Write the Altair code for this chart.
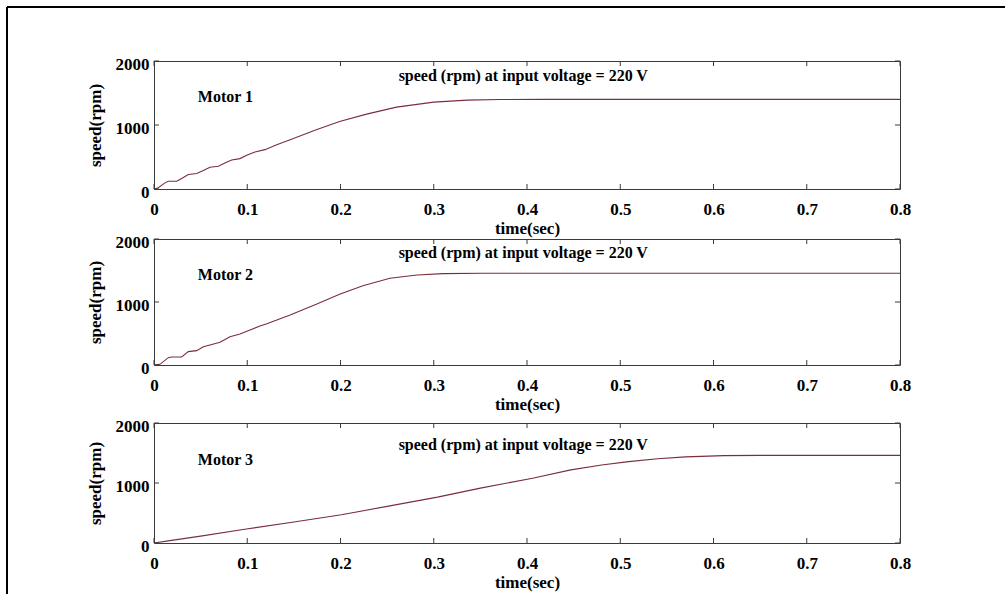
import altair as alt
import pandas as pd

# ---------------- data ----------------
t1 = [0, 0.0046, 0.0118, 0.0153, 0.0243, 0.0297, 0.0368, 0.0458, 0.0529, 0.060, 0.069,
      0.076, 0.0833, 0.0922, 0.0994, 0.1083, 0.119, 0.1316, 0.146, 0.174, 0.199, 0.228,
      0.260, 0.300, 0.336, 0.371, 0.42, 0.8]
v1 = [0, 19, 96, 122, 122, 163, 226, 241, 288, 340, 355,
      408, 454, 475, 526, 579, 615, 693, 770, 926, 1055, 1170,
      1279, 1357, 1388, 1398, 1400, 1400]

t2 = [0, 0.0064, 0.0153, 0.019, 0.0297, 0.0368, 0.0458, 0.0529, 0.060, 0.0708, 0.0815,
      0.0922, 0.103, 0.1137, 0.121, 0.146, 0.174, 0.199, 0.224, 0.253, 0.282, 0.310,
      0.353, 0.8]
v2 = [0, 11, 116, 127, 127, 212, 228, 291, 317, 360, 450,
      492, 556, 619, 656, 794, 963, 1122, 1259, 1376, 1429, 1450,
      1456, 1456]

t3 = [0, 0.017, 0.05, 0.099, 0.15, 0.201, 0.25, 0.304, 0.35, 0.406, 0.447, 0.48,
      0.509, 0.54, 0.57, 0.611, 0.65, 0.8]
v3 = [0, 39, 115, 233, 350, 471, 610, 765, 915, 1080, 1219, 1300,
      1357, 1405, 1435, 1457, 1460, 1460]

x_ticks = [0, 0.1, 0.2, 0.3, 0.4, 0.5, 0.6, 0.7, 0.8]
y_ticks = [0, 1000, 2000]

motor_names = ["Motor 1", "Motor 2", "Motor 3"]
motor_t = [0.047, 0.047, 0.047]
motor_v = [1440, 1430, 1390]
caption = "speed (rpm) at input voltage = 220 V"
caption_t = [0.396, 0.396, 0.396]
caption_v = [1767, 1770, 1633]

# ---------------- styling ----------------
W = 746
heights = [128, 126, 120]
gaps = [50, 58]
FONT = "Liberation Serif"
LINE = "#7a2e3c"
FRAME = "#3a3a3a"


def axes():
    xa = alt.Axis(
        values=x_ticks, format=".1~f", title="time(sec)", grid=False,
        domain=False, ticks=False, labelFlush=False, labelOverlap=False,
        labelFont=FONT, labelFontWeight="bold", labelFontSize=17, labelColor="black",
        labelPadding=12, titleFont=FONT, titleFontWeight="bold", titleFontSize=17,
        titleColor="black", titlePadding=3)
    ya = alt.Axis(
        values=y_ticks, format="d", title="speed(rpm)", grid=False,
        domain=False, ticks=False, labelFlush=False, labelOverlap=False,
        labelFont=FONT, labelFontWeight="bold", labelFontSize=17, labelColor="black",
        labelPadding=5, labelOffset=3, titleFont=FONT, titleFontWeight="bold",
        titleFontSize=17, titleColor="black", titlePadding=11)
    return xa, ya


def panel(t, v, h, name, nt, nv, ct, cv, border=False):
    xs = alt.Scale(domain=[0, 0.8], nice=False, zero=False)
    ys = alt.Scale(domain=[0, 2000], nice=False)
    xa, ya = axes()
    X = lambda: alt.X("t:Q", scale=xs, axis=xa)
    Y = lambda: alt.Y("v:Q", scale=ys, axis=ya)

    df = pd.DataFrame({"t": t, "v": v})
    line = alt.Chart(df).mark_line(color=LINE, strokeWidth=1.1, clip=True).encode(x=X(), y=Y())

    xt = pd.DataFrame({"t": x_ticks})
    yt = pd.DataFrame({"v": y_ticks})
    top_t = alt.Chart(xt).mark_rule(color=FRAME, strokeWidth=1).encode(
        x=X(), y=alt.value(0), y2=alt.value(5))
    bot_t = alt.Chart(xt).mark_rule(color=FRAME, strokeWidth=1).encode(
        x=X(), y=alt.value(h), y2=alt.value(h - 5))
    left_t = alt.Chart(yt).mark_rule(color=FRAME, strokeWidth=1).encode(
        y=Y(), x=alt.value(0), x2=alt.value(5))
    right_t = alt.Chart(yt).mark_rule(color=FRAME, strokeWidth=1).encode(
        y=Y(), x=alt.value(W), x2=alt.value(W - 5))

    name_df = pd.DataFrame({"t": [nt], "v": [nv], "label": [name]})
    cap_df = pd.DataFrame({"t": [ct], "v": [cv], "label": [caption]})
    name_txt = alt.Chart(name_df).mark_text(
        font=FONT, fontWeight="bold", fontSize=16, color="black", align="left",
        baseline="middle").encode(x=X(), y=Y(), text="label:N")
    cap_txt = alt.Chart(cap_df).mark_text(
        font=FONT, fontWeight="bold", fontSize=16, color="black", align="center",
        baseline="middle").encode(x=X(), y=Y(), text="label:N")

    layers = [line, top_t, bot_t, left_t, right_t, name_txt, cap_txt]
    if border:
        one = alt.Data(values=[{"a": 1}])
        b_top = alt.Chart(one).mark_rule(color="black", strokeWidth=2).encode(
            x=alt.value(-147), x2=alt.value(851), y=alt.value(-54))
        b_left = alt.Chart(one).mark_rule(color="black", strokeWidth=2).encode(
            x=alt.value(-147), y=alt.value(-54), y2=alt.value(533))
        layers += [b_top, b_left]
    return alt.layer(*layers).properties(width=W, height=h)


def spacer(h):
    one = alt.Data(values=[{"a": 1}])
    return alt.Chart(one).mark_point(opacity=0).encode(
        x=alt.value(0), y=alt.value(0)
    ).properties(width=W, height=h, view=alt.ViewConfig(strokeOpacity=0, fillOpacity=0))


p1 = panel(t1, v1, heights[0], motor_names[0], motor_t[0], motor_v[0], caption_t[0], caption_v[0], border=True)
p2 = panel(t2, v2, heights[1], motor_names[1], motor_t[1], motor_v[1], caption_t[1], caption_v[1])
p3 = panel(t3, v3, heights[2], motor_names[2], motor_t[2], motor_v[2], caption_t[2], caption_v[2])

chart = alt.vconcat(p1, spacer(gaps[0]), p2, spacer(gaps[1]), p3, spacing=0, bounds="flush").properties(
    padding={"left": 5, "top": 5, "right": 0, "bottom": 0},
    background="white",
).configure_view(stroke=FRAME, strokeWidth=1)

chart.save("out.html", embed_options={"renderer": "svg", "actions": False})
